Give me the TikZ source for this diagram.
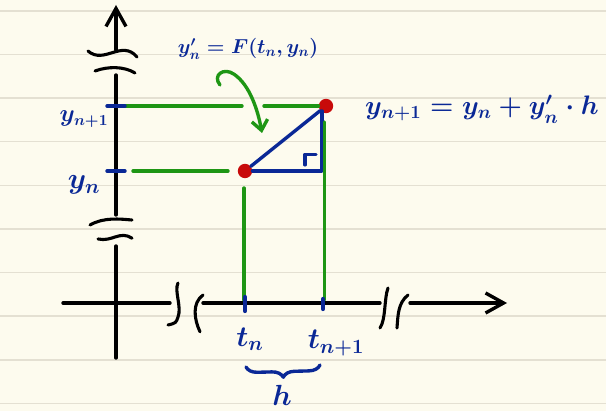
\documentclass[tikz,border=0pt]{standalone}
\usepackage{amsmath}
\usepackage{xcolor}
\usepackage{tikz}
\usetikzlibrary{
  arrows.meta,
  positioning,
  decorations.pathreplacing,
}
\definecolor{paper}{HTML}{FDFBEE}
\definecolor{ruleline}{HTML}{E4E0D2}
\definecolor{inkblue}{HTML}{0A2896}
\definecolor{inkgreen}{HTML}{1E9614}
\definecolor{inkred}{HTML}{C80A0A}

\begin{document}
\begin{tikzpicture}[line cap=round, line join=round,
    axis/.style={black, line width=2.4pt},
    breakmark/.style={black, line width=2.2pt},
    ink/.style={inkblue, line width=2.4pt},
    guide/.style={inkgreen, line width=2.4pt},
    dot/.style={circle, fill=inkred, inner sep=0pt, minimum size=0.36cm},
    label/.style={inkblue, font=\fontsize{20}{24}\selectfont\boldmath},
    >={Straight Barb[length=4.5mm,width=5mm]}]
  \useasboundingbox[fill=paper] (-2.9,-2.7) rectangle (12.25,7.575);
  \foreach \k in {0,...,9}
    \draw[ruleline, line width=1pt] (-2.9,{7.3-1.09*\k}) -- (12.25,{7.3-1.09*\k});

  % axes with breaks
  \draw[axis, ->] (0,6.325) -- (0,7.45);
  \draw[axis] (0,2.2) -- (0,5.7);
  \draw[axis] (0,-1.375) -- (0,1.425);
  \draw[breakmark] (-0.7,6.3) .. controls (-0.3,5.95) and (0.15,6.6) .. (0.525,6.15);
  \draw[breakmark] (-0.525,5.8) .. controls (-0.2,5.92) and (0.2,5.92) .. (0.475,5.75);
  \draw[breakmark] (-0.65,1.95) .. controls (-0.3,2.15) and (0.1,2.1) .. (0.4,2.075);
  \draw[breakmark] (-0.45,1.6) .. controls (-0.1,1.52) and (0.1,1.82) .. (0.4,1.62);

  \draw[axis] (-1.325,0) -- (1.35,0);
  \draw[axis] (2.175,0) -- (6.6,0);
  \draw[axis, ->] (7.35,0) -- (9.775,0);
  \draw[breakmark] (1.55,0.5) .. controls (1.45,0.3) and (1.65,-0.1) .. (1.55,-0.35) .. controls (1.5,-0.5) .. (1.3,-0.55);
  \draw[breakmark] (2.175,0.2) .. controls (1.9,0) and (1.95,-0.4) .. (2.1,-0.72);
  \draw[breakmark] (6.8,0.375) .. controls (6.7,0.1) and (6.75,-0.4) .. (6.6,-0.625);
  \draw[breakmark] (7.3,0.2) .. controls (7.05,0.0) and (7.05,-0.3) .. (7.025,-0.625);

  % points and slope triangle
  \node[dot] (pn) at (3.225,3.3) {};
  \node[dot] (pm) at (5.25,4.925) {};
  \coordinate (corner) at (5.15,3.3);
  \coordinate (rise) at (5.15,4.8);
  \draw[ink] (pn) -- (pm);
  \draw[ink] (pn) -- (corner) -- (rise);
  \draw[ink, line width=2.2pt] (4.725,3.45) -- (4.725,3.72) -- (5.0,3.72);

  % green guides
  \draw[guide] (0.225,4.925) -- (3.15,4.925);
  \draw[guide] (3.7,4.925) -- (pm);
  \draw[guide] (0.425,3.3) -- (2.8,3.3);
  \draw[guide] (3.2,2.875) -- (3.2,0.075);
  \draw[guide] (5.22,4.525) -- (5.22,0.075);

  % ticks
  \draw[ink] (-0.225,4.925) -- (0.225,4.925);
  \draw[ink] (-0.225,3.3) -- (0.225,3.3);
  \draw[ink, line width=3pt] (3.225,0.15) -- (3.225,-0.2);
  \draw[ink, line width=3pt] (5.175,0.1) -- (5.175,-0.15);

  % labels
  \node[label, font=\fontsize{16}{19}\selectfont\boldmath] (lyn1) at (-0.8,4.6) {$y_{n+1}$};
  \node[label] (lyn) at (-0.8,2.95) {$y_n$};
  \node[label] (ltn) at (3.35,-0.9) {$t_n$};
  \node[label] (ltm) at (5.5,-1.0) {$t_{n+1}$};
  \node[label] (lh) at (4.15,-2.3) {$h$};
  \draw[ink, decorate, decoration={brace, mirror, amplitude=0.28cm}] (3.25,-1.6) -- (5.1,-1.55);
  \node[label, font=\fontsize{14.5}{18}\selectfont\boldmath] (slope) at (3.3,6.35) {$y'_n = F(t_n, y_n)$};
  \node[label, font=\fontsize{18.5}{22}\selectfont\boldmath, transform shape, scale=1.1] (euler) at (9.15,4.85) {$y_{n+1} = y_n + y'_n \cdot h$};

  % slope arrow
  \coordinate (hook) at (2.6,5.45);
  \coordinate (aim) at (3.65,4.25);
  \draw[guide, ->, >={Straight Barb[length=2.5mm,width=4mm]}] (hook) .. controls (2.4,5.7) and (2.7,5.9) .. (2.95,5.72) .. controls (3.35,5.45) and (3.55,4.8) .. (aim);
\end{tikzpicture}
\end{document}
